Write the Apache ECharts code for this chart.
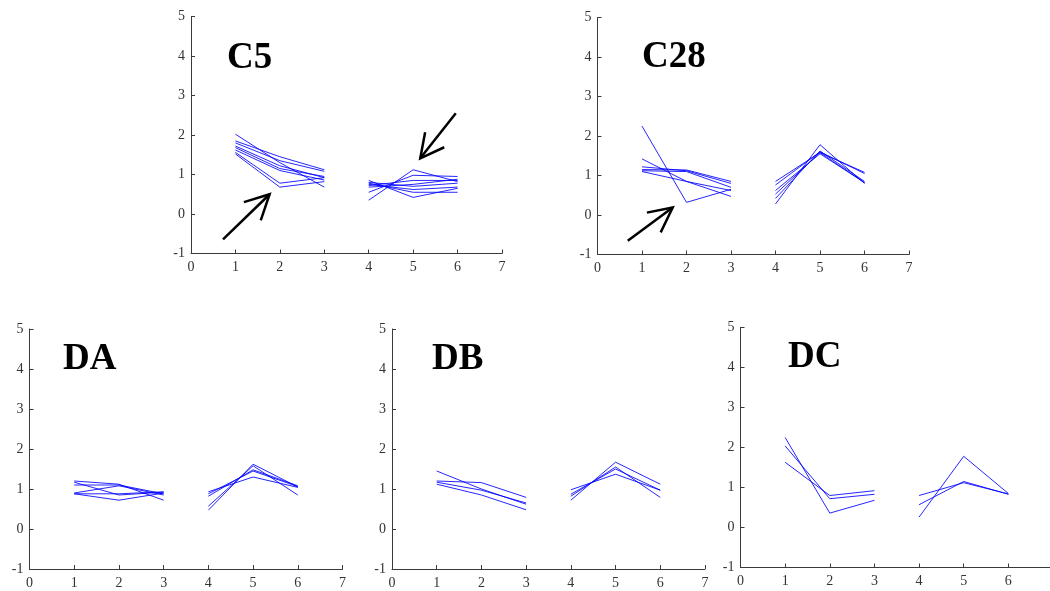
<!DOCTYPE html>
<html>
<head>
<meta charset="utf-8">
<script src="https://cdn.jsdelivr.net/npm/echarts@6/dist/echarts.min.js"></script>
<style>
html,body{margin:0;padding:0;background:#fff;}
#chart{width:1050px;height:591px;}
</style>
</head>
<body>
<div id="chart"></div>
<script>
// ---- data ----
const xTicks = [0, 1, 2, 3, 4, 5, 6, 7];
const yTicks = [-1, 0, 1, 2, 3, 4, 5];
const xLeft = [1, 2, 3];
const xRight = [4, 5, 6];
const panelNames = ['C5', 'C28', 'DA', 'DB', 'DC'];

const c5Left = [
  [2.02, 1.30, 0.68],
  [1.85, 1.45, 1.12],
  [1.80, 1.35, 1.08],
  [1.72, 1.22, 0.92],
  [1.68, 1.15, 0.95],
  [1.62, 1.10, 0.86],
  [1.56, 0.78, 0.92],
  [1.52, 0.68, 0.82]
];
const c5Right = [
  [0.35, 1.12, 0.82],
  [0.55, 0.98, 0.95],
  [0.85, 0.42, 0.65],
  [0.78, 0.55, 0.55],
  [0.72, 0.85, 0.85],
  [0.68, 0.75, 0.88],
  [0.80, 0.70, 0.78],
  [0.75, 0.62, 0.68]
];
const c28Left = [
  [2.25, 0.32, 0.65],
  [1.42, 0.85, 0.47],
  [1.22, 1.12, 0.80],
  [1.15, 1.14, 0.85],
  [1.10, 0.85, 0.62],
  [1.12, 1.10, 0.70]
];
const c28Right = [
  [0.28, 1.78, 0.80],
  [0.42, 1.62, 0.85],
  [0.53, 1.58, 1.08],
  [0.62, 1.55, 0.82],
  [0.76, 1.60, 1.05],
  [0.85, 1.58, 0.82]
];
const daLeft = [
  [1.20, 1.12, 0.72],
  [1.10, 1.10, 0.88],
  [1.17, 0.85, 0.92],
  [0.90, 1.08, 0.85],
  [0.88, 0.72, 0.90],
  [0.88, 0.88, 0.93]
];
const daRight = [
  [0.47, 1.62, 1.05],
  [0.57, 1.58, 0.85],
  [0.82, 1.48, 1.08],
  [0.93, 1.30, 1.04],
  [0.88, 1.45, 1.06]
];
const dbLeft = [
  [1.45, 1.00, 0.62],
  [1.20, 1.16, 0.79],
  [1.17, 0.97, 0.65],
  [1.12, 0.85, 0.48]
];
const dbRight = [
  [0.72, 1.67, 1.12],
  [0.82, 1.55, 0.79],
  [0.98, 1.37, 0.97],
  [0.87, 1.50, 0.97]
];
const dcLeft = [
  [2.25, 0.36, 0.68],
  [2.04, 0.72, 0.83],
  [1.63, 0.80, 0.92]
];
const dcRight = [
  [0.26, 1.78, 0.85],
  [0.57, 1.15, 0.83],
  [0.80, 1.12, 0.84]
];

// arrows (data coordinates of each panel): tail, tip, barb1, barb2
const c5Arrows = [
  { tail: [0.72, -0.64], tip: [1.77, 0.50], barbs: [[1.19, 0.30], [1.57, -0.16]] },
  { tail: [5.96, 2.55], tip: [5.16, 1.41], barbs: [[5.27, 2.07], [5.70, 1.69]] }
];
const c28Arrows = [
  { tail: [0.68, -0.65], tip: [1.69, 0.19], barbs: [[1.11, 0.06], [1.42, -0.44]] }
];

const panels = [
  { left: c5Left, right: c5Right, arrows: c5Arrows },
  { left: c28Left, right: c28Right, arrows: c28Arrows },
  { left: daLeft, right: daRight, arrows: [] },
  { left: dbLeft, right: dbRight, arrows: [] },
  { left: dcLeft, right: dcRight, arrows: [] }
];

// ---- layout ----
const grids = [
  { left: 191, top: 16.5, width: 311, height: 237 },
  { left: 597.5, top: 17.5, width: 311.5, height: 237 },
  { left: 29.5, top: 329, width: 313, height: 240 },
  { left: 392, top: 329, width: 313, height: 240 },
  { left: 740.5, top: 327.5, width: 312.5, height: 240 }
];
const titlePos = [
  { left: 227, top: 40 },
  { left: 642, top: 39 },
  { left: 63, top: 341 },
  { left: 432, top: 341 },
  { left: 788, top: 339 }
];

const axisColor = '#3a3a3a';
const labelFont = { fontFamily: 'Liberation Serif', fontSize: 14, color: '#333' };

const option = {
  animation: false,
  backgroundColor: '#fff',
  title: panelNames.map((n, i) => ({
    text: n,
    left: titlePos[i].left,
    top: titlePos[i].top,
    padding: 0,
    textStyle: { fontFamily: 'Liberation Serif', fontWeight: 'bold', fontSize: 37, color: '#000' }
  })),
  grid: grids.map(g => Object.assign({ containLabel: false, outerBoundsMode: 'none' }, g)),
  xAxis: grids.map((g, i) => ({
    type: 'value', gridIndex: i, min: xTicks[0], max: xTicks[xTicks.length - 1], interval: 1,
    axisLine: { show: true, onZero: false, lineStyle: { color: axisColor, width: 1 } },
    axisTick: { show: true, inside: true, length: 4, lineStyle: { color: axisColor } },
    axisLabel: Object.assign({ margin: 7 }, labelFont),
    splitLine: { show: false }
  })),
  yAxis: grids.map((g, i) => ({
    type: 'value', gridIndex: i, min: yTicks[0], max: yTicks[yTicks.length - 1], interval: 1,
    axisLine: { show: true, onZero: false, lineStyle: { color: axisColor, width: 1 } },
    axisTick: { show: true, inside: true, length: 4, lineStyle: { color: axisColor } },
    axisLabel: Object.assign({ margin: 6 }, labelFont),
    splitLine: { show: false }
  })),
  series: []
};

const blue = 'rgba(0,0,255,0.85)';
panels.forEach((p, i) => {
  [[p.left, xLeft], [p.right, xRight]].forEach(([group, xs]) => {
    group.forEach(vals => {
      option.series.push({
        type: 'line', xAxisIndex: i, yAxisIndex: i, symbol: 'none', silent: true,
        data: xs.map((x, k) => [x, vals[k]]),
        lineStyle: { color: blue, width: 1 }
      });
    });
  });
  p.arrows.forEach(a => {
    option.series.push({
      type: 'line', xAxisIndex: i, yAxisIndex: i, symbol: 'none', silent: true,
      data: [a.tail, a.tip],
      lineStyle: { color: '#000', width: 2.5 }
    });
    option.series.push({
      type: 'line', xAxisIndex: i, yAxisIndex: i, symbol: 'none', silent: true,
      data: [a.barbs[0], a.tip, a.barbs[1]],
      lineStyle: { color: '#000', width: 2.5, join: 'miter' }
    });
  });
});

const chart = echarts.init(document.getElementById('chart'), null, { renderer: 'canvas' });
chart.setOption(option);
</script>
</body>
</html>
